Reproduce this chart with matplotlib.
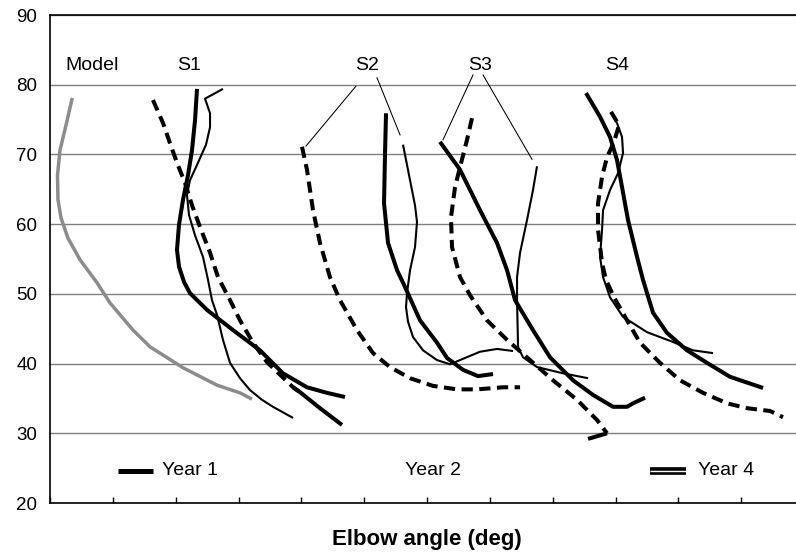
import matplotlib.pyplot as plt

plt.rcParams['font.family'] = ['Liberation Sans', 'DejaVu Sans']

# model curve (grey)
model_x = [3.54, 2.55, 1.59, 1.19, 1.27, 1.75, 2.86, 4.77, 7.48, 9.55, 13.21, 15.92, 21.17, 26.58, 30.24, 32.15]
model_y = [78.1, 74.2, 70.6, 67.0, 63.5, 60.9, 58.0, 54.9, 51.6, 48.7, 44.8, 42.4, 39.4, 36.9, 35.8, 34.9]

# S1
s1_y1_x = [27.53, 24.67, 25.47, 25.47, 24.83, 23.40, 22.28, 21.80, 22.12, 23.08, 24.35, 25.15, 25.78, 26.58, 27.53, 28.65, 30.24, 31.83, 33.74, 35.49, 38.68]
s1_y1_y = [79.4, 78.0, 75.9, 73.9, 71.4, 68.5, 66.3, 64.2, 61.3, 58.4, 55.3, 52.0, 49.1, 47.0, 43.4, 40.1, 37.9, 36.2, 34.8, 33.8, 32.2]
s1_y2_x = [16.39, 17.99, 19.10, 20.21, 21.49, 22.60, 23.87, 25.47, 26.74, 28.65, 30.24, 32.31, 34.54, 36.61, 38.68, 39.79]
s1_y2_y = [77.8, 74.5, 71.6, 68.8, 65.9, 62.7, 59.6, 55.9, 52.4, 49.1, 46.2, 43.0, 40.2, 38.4, 36.6, 35.9]
s1_y2_tail_x = [38.68, 39.79, 42.97, 46.47]
s1_y2_tail_y = [36.6, 35.9, 33.6, 31.2]
s1_y4_x = [23.40, 23.08, 22.60, 21.96, 21.17, 20.53, 20.21, 20.53, 21.33, 22.28, 24.99, 29.13, 33.42, 37.08, 40.90, 44.09, 46.95]
s1_y4_y = [79.4, 74.9, 70.6, 67.0, 63.5, 59.9, 56.3, 53.9, 51.7, 50.1, 47.7, 44.8, 41.9, 38.6, 36.6, 35.8, 35.2]

# S2
s2_y1_x = [56.18, 57.30, 58.09, 58.41, 58.09, 57.30, 56.82, 56.66, 56.98, 57.78, 59.37, 61.59, 63.66, 66.05, 68.44, 71.15, 73.69]
s2_y1_y = [71.4, 66.3, 62.7, 60.3, 56.7, 53.4, 50.1, 48.1, 46.0, 43.8, 41.9, 40.5, 39.9, 40.8, 41.7, 42.1, 41.8]
s2_y2_x = [40.11, 40.90, 41.86, 42.97, 44.56, 46.15, 48.86, 51.41, 54.11, 57.30, 60.96, 64.78, 67.96, 72.10, 74.81]
s2_y2_y = [71.1, 67.8, 62.0, 57.3, 52.4, 49.1, 44.8, 41.5, 39.5, 37.9, 36.8, 36.3, 36.3, 36.6, 36.6]
s2_y4_x = [53.48, 53.32, 53.16, 53.80, 55.23, 56.34, 58.89, 61.59, 63.19, 65.73, 68.12, 70.51]
s2_y4_y = [75.9, 70.2, 63.0, 57.3, 53.4, 51.3, 46.2, 43.0, 40.8, 39.1, 38.2, 38.5]

# S3
s3_y1_x = [77.51, 76.87, 75.92, 74.81, 74.33, 74.33, 74.49, 75.28, 77.51, 81.65, 85.63]
s3_y1_y = [68.3, 64.9, 60.6, 55.9, 52.4, 49.1, 42.4, 40.9, 39.5, 38.6, 37.9]
s3_y2_x = [67.16, 66.37, 65.26, 64.46, 63.82, 63.98, 65.26, 66.85, 69.55, 72.74, 76.40, 80.06, 83.88, 87.06, 88.65]
s3_y2_y = [75.2, 72.1, 68.2, 65.3, 61.0, 56.7, 52.4, 49.8, 46.2, 43.4, 40.5, 37.6, 34.8, 31.9, 30.0]
s3_y2_tail_x = [88.65, 85.63]
s3_y2_tail_y = [30.0, 29.2]
s3_y4_x = [62.07, 65.26, 68.44, 71.15, 72.74, 74.01, 76.87, 79.58, 83.24, 86.42, 89.61, 91.84, 92.79, 94.70]
s3_y4_y = [71.8, 67.8, 62.0, 57.3, 53.4, 49.1, 44.8, 40.9, 37.6, 35.5, 33.8, 33.8, 34.3, 35.1]

# S4
s4_y1_x = [89.29, 90.24, 91.04, 91.20, 90.40, 89.13, 88.02, 87.86, 87.54, 88.02, 89.13, 91.20, 95.02, 99.15, 102.34, 105.52]
s4_y1_y = [76.1, 74.5, 72.5, 70.2, 67.3, 64.9, 62.0, 59.2, 55.3, 52.4, 49.5, 46.7, 44.5, 43.1, 41.9, 41.5]
s4_y2_x = [89.29, 90.56, 89.77, 88.65, 87.86, 87.22, 87.22, 87.86, 88.49, 89.77, 91.84, 93.90, 97.09, 100.27, 103.93, 107.75, 110.93, 114.59, 116.66]
s4_y2_y = [76.1, 74.2, 71.8, 69.6, 66.8, 63.0, 59.2, 54.4, 52.0, 49.5, 46.2, 43.0, 40.1, 37.6, 35.8, 34.3, 33.6, 33.2, 32.3]
s4_y4_x = [85.31, 87.54, 89.13, 90.24, 91.04, 91.99, 93.43, 94.38, 95.02, 95.97, 98.20, 101.38, 104.57, 108.23, 113.48]
s4_y4_y = [78.8, 75.4, 72.5, 69.2, 65.3, 60.6, 55.3, 52.0, 50.1, 47.3, 44.4, 41.9, 40.1, 38.1, 36.5]

subjects = ['S1', 'S2', 'S3', 'S4']
subject_x = [22.1, 50.45, 68.44, 90.24]
label_y = 82.8

fig = plt.figure(figsize=(7.96, 5.56), dpi=100)
ax = fig.add_axes([50/796, 53/556, 754/796, 488/556])

thin = dict(color='black', lw=1.5, solid_capstyle='butt', solid_joinstyle='round')
thick = dict(color='black', lw=2.9, solid_capstyle='butt', solid_joinstyle='round')
dash = dict(color='black', lw=2.9, dashes=(2.8, 1.6), dash_capstyle='butt', dash_joinstyle='round')

ax.plot(model_x, model_y, color='#8c8c8c', lw=2.5, solid_capstyle='butt', solid_joinstyle='round')

for x, y in [(s1_y1_x, s1_y1_y), (s2_y1_x, s2_y1_y), (s3_y1_x, s3_y1_y), (s4_y1_x, s4_y1_y)]:
    ax.plot(x, y, **thin)
for x, y in [(s1_y4_x, s1_y4_y), (s2_y4_x, s2_y4_y), (s3_y4_x, s3_y4_y), (s4_y4_x, s4_y4_y)]:
    ax.plot(x, y, **thick)
for x, y in [(s1_y2_x, s1_y2_y), (s2_y2_x, s2_y2_y), (s3_y2_x, s3_y2_y), (s4_y2_x, s4_y2_y)]:
    ax.plot(x, y, **dash)
ax.plot(s1_y2_tail_x, s1_y2_tail_y, **thick)
ax.plot(s3_y2_tail_x, s3_y2_tail_y, **thick)

# labels
ax.text(6.7, label_y, 'Model', ha='center', va='center', fontsize=14)
for s, x in zip(subjects, subject_x):
    ax.text(x, label_y, s, ha='center', va='center', fontsize=14)

# pointer lines from S2 and S3
ax.plot([48.70, 40.74], [79.8, 71.2], color='black', lw=0.75)
ax.plot([52.04, 55.71], [81.0, 72.8], color='black', lw=0.75)
ax.plot([67.32, 62.55], [81.4, 72.1], color='black', lw=0.75)
ax.plot([68.92, 76.71], [81.4, 69.3], color='black', lw=0.75)

# year key
ax.plot([10.8, 16.4], [24.6, 24.6], color='black', lw=3.6, solid_capstyle='butt')
ax.text(17.8, 24.6, 'Year 1', ha='left', va='center', fontsize=14)
ax.text(56.5, 24.6, 'Year 2', ha='left', va='center', fontsize=14)
ax.plot([95.5, 101.2], [24.6, 24.6], color='black', lw=5.5, solid_capstyle='butt')
ax.plot([95.5, 101.2], [24.6, 24.6], color='white', lw=1.0, solid_capstyle='butt')
ax.text(103.1, 24.6, 'Year 4', ha='left', va='center', fontsize=14)

ax.set_xlim(0, 120)
ax.set_ylim(20, 90)
ax.set_yticks(range(20, 91, 10))
ax.set_xticks(range(0, 121, 10))
ax.set_xticklabels([])
ax.tick_params(axis='x', direction='in', length=4, width=1)
ax.tick_params(axis='y', length=0, pad=9, labelsize=13.5)
ax.grid(axis='y', color='#7f7f7f', lw=1.0)
ax.set_axisbelow(True)
ax.spines['right'].set_visible(False)
for sp in ['left', 'bottom', 'top']:
    ax.spines[sp].set_linewidth(1.2)

ax.set_xlabel('Elbow angle (deg)', fontsize=16, fontweight='bold', labelpad=15)

fig.savefig('out.png', dpi=100)
